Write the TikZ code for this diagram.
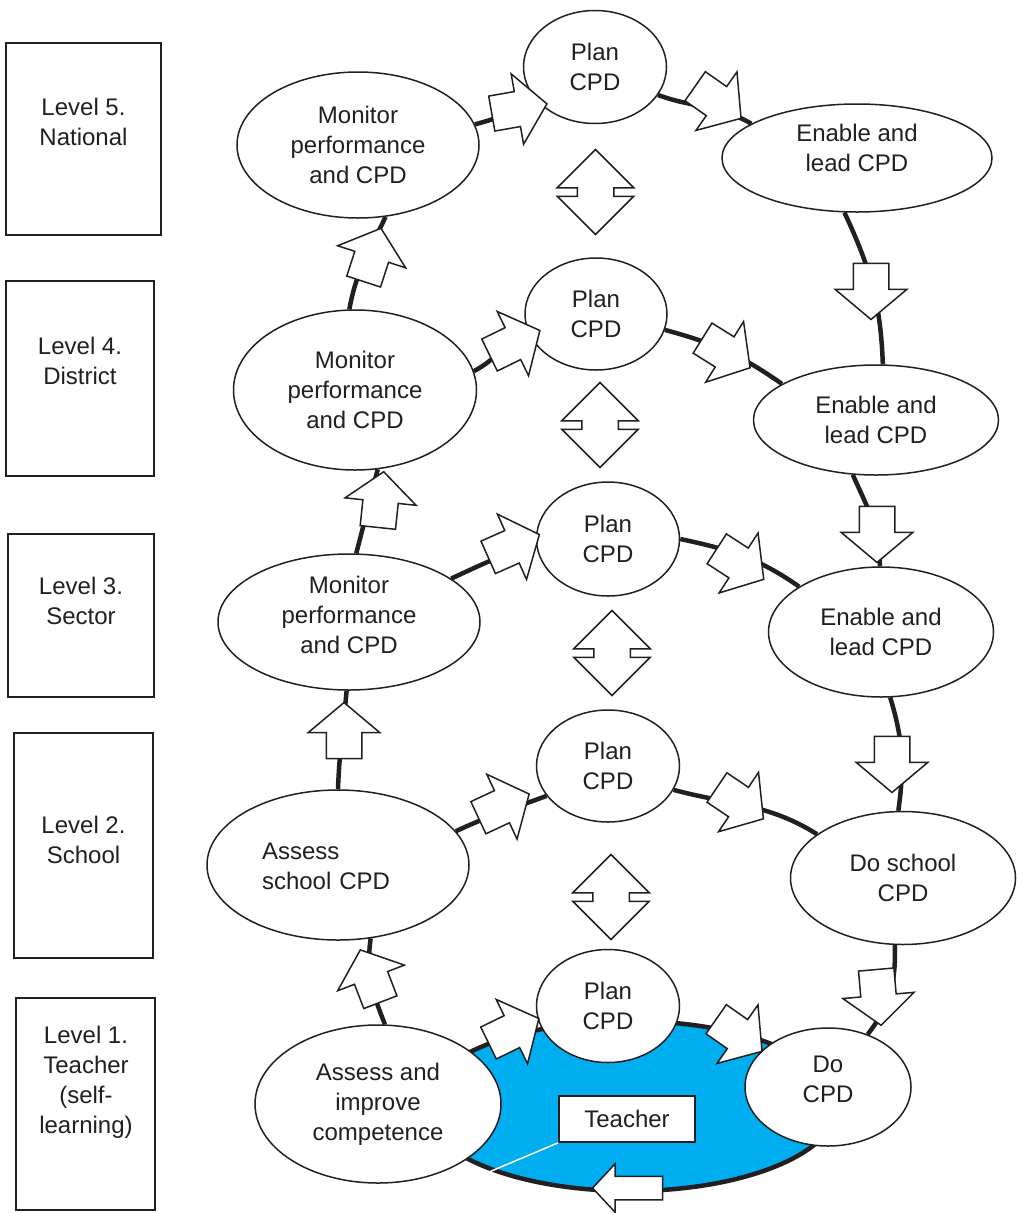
\documentclass[tikz,border=0pt]{standalone}
\usepackage{fontspec}
\setmainfont{Liberation Sans}
\usetikzlibrary{shapes.geometric, shapes.arrows}
\definecolor{teachblue}{RGB}{0,174,239}
\definecolor{ink}{RGB}{35,31,32}
\newcommand{\cpdfont}{\fontsize{24}{30}\selectfont}

\begin{document}
\begin{tikzpicture}
[x=1pt, y=1pt, color=ink, every node/.style={font=\cpdfont, text=ink},
 stage/.style={ellipse, draw, fill=white, line width=1.5pt, inner sep=0pt, align=center},
 level box/.style={rectangle, draw, line width=2.5pt, inner sep=0pt},
 level text/.style={align=center, inner sep=0pt},
 loop line/.style={line width=4.5pt},
 block arrow/.style={single arrow, draw, fill=white, line width=1.5pt, inner xsep=0pt, inner ysep=17pt, single arrow head extend=18pt, single arrow tip angle=100, minimum height=56pt},
 swap arrow/.style={double arrow, draw, fill=white, line width=1.5pt, inner xsep=0pt, inner ysep=17.5pt, double arrow head extend=20pt, minimum height=85pt, rotate=90}]
    \useasboundingbox (0,0) rectangle (1017,-1213);
    \node[level box, minimum width=155, minimum height=192] (lev5) at (83.5,-139) {};
    \node[level box, minimum width=148, minimum height=195] (lev4) at (80,-378.5) {};
    \node[level box, minimum width=146, minimum height=163] (lev3) at (81,-615.5) {};
    \node[level box, minimum width=139, minimum height=225] (lev2) at (83.5,-845.5) {};
    \node[level box, minimum width=139, minimum height=212] (lev1) at (85.5,-1104) {};
    \node[level text] (txt5) at (83.5,-122) {Level 5.\\National};
    \node[level text] (txt4) at (80,-361) {Level 4.\\District};
    \node[level text] (txt3) at (81,-601) {Level 3.\\Sector};
    \node[level text] (txt2) at (83.5,-840) {Level 2.\\School};
    \node[level text] (txt1) at (86,-1082) {Level 1.\\Teacher\\(self-\\learning)};
    \node[ellipse, draw, fill=teachblue, line width=4.5pt, minimum width=414, minimum height=170] (loop1) at (630,-1106) {};
    \node[rectangle, draw, fill=white, line width=1.5pt, minimum width=136, minimum height=46] (teacher) at (627,-1119) {Teacher};
    \coordinate (tpoint) at (489,-1172);
    \draw[white, line width=1.5pt] (teacher.south west) -- (tpoint);
    \node[stage, minimum width=242, minimum height=146] (mon5) at (358,-145) {Monitor\\performance\\and CPD};
    \node[stage, minimum width=143, minimum height=113] (plan5) at (595,-67) {Plan\\CPD};
    \node[stage, minimum width=270, minimum height=108, text depth=21pt] (enab5) at (857,-158) {Enable and\\lead CPD};
    \node[stage, minimum width=243, minimum height=160] (mon4) at (355,-390) {Monitor\\performance\\and CPD};
    \node[stage, minimum width=142, minimum height=112] (plan4) at (596,-314) {Plan\\CPD};
    \node[stage, minimum width=245, minimum height=110] (enab4) at (876,-420) {Enable and\\lead CPD};
    \node[stage, minimum width=262, minimum height=136, text depth=14pt] (mon3) at (349,-622) {Monitor\\performance\\and CPD};
    \node[stage, minimum width=143, minimum height=114] (plan3) at (608,-539) {Plan\\CPD};
    \node[stage, minimum width=225, minimum height=130] (enab3) at (881,-632) {Enable and\\lead CPD};
    \node[stage, minimum width=262, minimum height=150, align=left, text width=152pt, text depth=28pt] (as2) at (338,-865) {Assess\\school CPD};
    \node[stage, minimum width=143, minimum height=112] (plan2) at (608,-766) {Plan\\CPD};
    \node[stage, minimum width=225, minimum height=133] (dosch2) at (903,-878) {Do school\\CPD};
    \node[stage, minimum width=246, minimum height=158] (as1) at (378,-1104) {Assess and\\improve\\competence};
    \node[stage, minimum width=143, minimum height=113] (plan1) at (608,-1006) {Plan\\CPD};
    \node[stage, minimum width=166, minimum height=118, text depth=16pt] (do1) at (828,-1087) {Do\\CPD};
    \draw[loop line] (mon5.10) to[out=15,in=200] (plan5.212);
    \draw[loop line] (plan5.336) to[out=-20,in=150] (enab5.162);
    \draw[loop line] (enab5.257) to[out=-65,in=92] (enab4.83);
    \draw[loop line] (mon4.94) to[out=80,in=245] (mon5.291);
    \draw[loop line] (mon4.9) to[out=28,in=200] (plan4.197);
    \draw[loop line] (plan4.347) to[out=-15,in=145] (enab4.159);
    \draw[loop line] (enab4.247) to[out=-66,in=90] (enab3.91);
    \draw[loop line] (mon3.84) to[out=75,in=255] (mon4.286);
    \draw[loop line] (mon3.23) to[out=25,in=195] (plan3.185);
    \draw[loop line] (plan3.0) to[out=-12,in=145] (enab3.151);
    \draw[loop line] (enab3.278) to[out=-73,in=82] (dosch2.94);
    \draw[loop line] (as2.90) to[out=88,in=265] (mon3.268);
    \draw[loop line] (as2.16) to[out=25,in=200] (plan2.206);
    \draw[loop line] (plan2.340) to[out=-15,in=148] (dosch2.153);
    \draw[loop line] (dosch2.263) to[out=-88,in=52] (do1.53);
    \draw[loop line] (as1.85) to[out=112,in=262] (as2.294);
    \node[block arrow, rotate=10] (a5l) at (512,-110) {};
    \node[block arrow, rotate=-35] (a5r) at (712,-98) {};
    \node[block arrow, rotate=-90] (a54) at (871,-284) {};
    \node[block arrow, rotate=72] (a45) at (370,-262) {};
    \node[block arrow, rotate=26] (a4l) at (508,-346) {};
    \node[block arrow, rotate=-32] (a4r) at (720,-349) {};
    \node[block arrow, rotate=-90] (a43) at (877,-527) {};
    \node[block arrow, rotate=84] (a34) at (380,-507) {};
    \node[block arrow, rotate=24] (a3l) at (507,-549) {};
    \node[block arrow, rotate=-33] (a3r) at (734,-560) {};
    \node[block arrow, rotate=-90] (a32) at (892,-757) {};
    \node[block arrow, rotate=90] (a23) at (344,-738) {};
    \node[block arrow, rotate=25] (a2l) at (497,-809) {};
    \node[block arrow, rotate=-34] (a2r) at (734,-799) {};
    \node[block arrow, rotate=-85] (a21) at (878,-990) {};
    \node[block arrow, rotate=111] (a12) at (373,-983) {};
    \node[block arrow, rotate=26] (a1l) at (507,-1034) {};
    \node[block arrow, rotate=-35] (a1r) at (733,-1031) {};
    \node[block arrow, rotate=180, inner ysep=11pt, single arrow head extend=12.5pt, single arrow tip angle=94, minimum height=70pt] (a1b) at (633,-1188) {};
    \node[swap arrow] (d5) at (595.5,-192) {};
    \node[swap arrow] (d4) at (600,-425) {};
    \node[swap arrow] (d3) at (612,-653) {};
    \node[swap arrow] (d2) at (611,-897) {};
\end{tikzpicture}
\end{document}
